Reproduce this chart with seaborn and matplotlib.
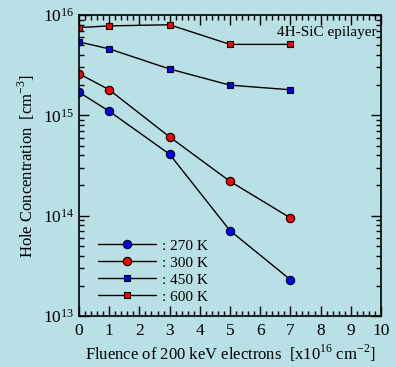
import numpy as np
import pandas as pd
import matplotlib
matplotlib.use("Agg")
import matplotlib.pyplot as plt
import seaborn as sns
from matplotlib.lines import Line2D
from matplotlib.ticker import MultipleLocator, LogLocator, NullFormatter

sns.set_theme(style="ticks")
plt.rcParams['font.family'] = ['Liberation Serif', 'DejaVu Serif']
plt.rcParams['mathtext.fontset'] = 'custom'
plt.rcParams['mathtext.rm'] = 'Liberation Serif'
plt.rcParams['text.color'] = 'black'
plt.rcParams['axes.labelcolor'] = 'black'

bg = "#b9e0e4"

fluence = [0, 1, 3, 5, 7]
temps = ["270 K", "300 K", "450 K", "600 K"]
hole_270 = [1.7e15, 1.1e15, 4.1e14, 7.1e13, 2.3e13]
hole_300 = [2.6e15, 1.8e15, 6.1e14, 2.2e14, 9.5e13]
hole_450 = [5.4e15, 4.6e15, 2.9e15, 2.0e15, 1.8e15]
hole_600 = [7.5e15, 7.8e15, 8.0e15, 5.1e15, 5.1e15]

series = [hole_270, hole_300, hole_450, hole_600]
markers = ["o", "o", "s", "s"]
faces = ["#0000ff", "#ff0000", "#0000ff", "#ff0000"]
msizes = [6, 6, 4.2, 4.2]

fig = plt.figure(figsize=(3.96, 3.67), dpi=100, facecolor=bg)
ax = fig.add_axes([0.1995, 0.139, 0.7625, 0.82])
ax.set_facecolor(bg)

handles = []
for t, vals, m, fc, ms in zip(temps, series, markers, faces, msizes):
    df = pd.DataFrame({"x": fluence, "y": vals})
    sns.lineplot(data=df, x="x", y="y", ax=ax, color="black", linewidth=1,
                 marker=m, markersize=ms, markerfacecolor=fc,
                 markeredgecolor="black", markeredgewidth=0.8)
    handles.append(Line2D([0], [0], color="black", linewidth=1, marker=m,
                          markersize=ms, markerfacecolor=fc,
                          markeredgecolor="black", markeredgewidth=0.8))

ax.set_yscale("log")
ax.set_xlim(0, 10)
ax.set_ylim(1e13, 1e16)
ax.xaxis.set_major_locator(MultipleLocator(1))
ax.xaxis.set_minor_locator(MultipleLocator(0.2))
ax.yaxis.set_major_locator(LogLocator(base=10, numticks=10))
ax.yaxis.set_minor_locator(LogLocator(base=10, subs=np.arange(2, 10), numticks=20))
ax.yaxis.set_minor_formatter(NullFormatter())

ax.tick_params(which="both", direction="in", top=True, right=True,
               colors="black", labelsize=12.5)
ax.tick_params(which="major", length=7, width=1)
ax.tick_params(which="minor", length=3.5, width=1)
ax.tick_params(axis="x", pad=5)
for s in ax.spines.values():
    s.set_linewidth(1.2)
    s.set_color("black")

ax.set_xlabel(r"Fluence of 200 keV electrons  [x10$^{16}$ cm$^{-2}$]", fontsize=12, labelpad=3)
ax.set_ylabel(r"Hole Concentration  [cm$^{-3}$]", fontsize=12, labelpad=4)

ax.text(0.985, 0.965, "4H-SiC epilayer", transform=ax.transAxes,
        ha="right", va="top", fontsize=11)

ax.legend(handles, [": " + t for t in temps], loc="lower left",
          bbox_to_anchor=(0.017, -0.005), frameon=False, handlelength=3.8,
          handletextpad=0.4, labelspacing=0.22, fontsize=11)

fig.savefig("out.png", dpi=100, facecolor=bg)
